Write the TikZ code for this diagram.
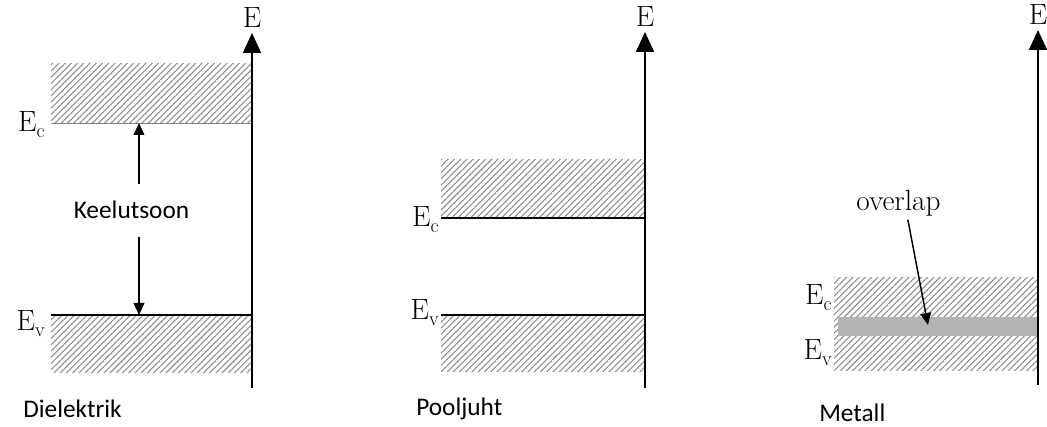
\documentclass[tikz,border=0pt]{standalone}
\usepackage{fontspec}
\newfontfamily\labelsans{Carlito}
\usetikzlibrary{arrows.meta,positioning,patterns.meta}
\definecolor{Hatch}{HTML}{8C8C8C}
\definecolor{Overlap}{HTML}{B3B3B3}
\newcommand{\lvl}[1]{E\raisebox{-0.45ex}{\fontsize{15}{16}\selectfont #1}}
\tikzset{
  band/.style={pattern={Lines[angle=45,distance=3.3pt,line width=0.8pt]},pattern color=Hatch},
  axis/.style={line width=1.5pt,-{Triangle[width=13.5pt,length=15pt]}},
  level/.style={line width=1.2pt},
  gaparrow/.style={line width=1.1pt,-{Triangle[width=8pt,length=9pt]}},
  serif/.style={font=\fontsize{22}{24}\selectfont,inner sep=0pt},
  caption/.style={font=\labelsans\fontsize{19}{22}\selectfont,inner sep=0pt},
}

\begin{document}
\begin{tikzpicture}[x=0.75pt,y=-0.75pt]
  \useasboundingbox (0,0) rectangle (1047,427);

  % Dielektrik
  \fill[band] (51,64) rectangle (251,123);
  \fill[band] (51,315) rectangle (251,373);
  \coordinate (ec1) at (51,123);
  \coordinate (ec1r) at (252,123);
  \coordinate (ev1) at (51,315);
  \coordinate (ev1r) at (252,315);
  \draw[gray,line width=0.6pt] (ec1) -- (ec1r);
  \draw[level] (ev1) -- (ev1r);
  \node[serif,anchor=base east] (Ec1) at (45,132) {\lvl{c}};
  \node[serif,anchor=base east] (Ev1) at (45,331) {\lvl{v}};
  \coordinate (gapT) at (139,123);
  \coordinate (gapB) at (139,315);
  \node[caption,anchor=base,inner ysep=13pt] (gap) at (131.5,219) {Keelutsoon};
  \draw[gaparrow] (gap.north -| gapT) -- (gapT);
  \draw[gaparrow] (gap.south -| gapB) -- (gapB);
  \node[caption,anchor=base west] (cap1) at (23,418) {Dielektrik};

  % Pooljuht
  \fill[band] (441,160) rectangle (644,218);
  \fill[band] (441,315) rectangle (644,372);
  \coordinate (ec2) at (441,218);
  \coordinate (ec2r) at (645,218);
  \coordinate (ev2) at (441,315);
  \coordinate (ev2r) at (645,315);
  \draw[level] (ec2) -- (ec2r);
  \draw[level] (ev2) -- (ev2r);
  \node[serif,anchor=base east] (Ec2) at (439,227) {\lvl{c}};
  \node[serif,anchor=base east] (Ev2) at (439,320) {\lvl{v}};
  \node[caption,anchor=base west] (cap2) at (416,416) {Pooljuht};

  % Metall
  \fill[band] (834,278) rectangle (1037,371);
  \fill[Overlap] (838,317) rectangle (1037,336);
  \node[serif,anchor=base east] (Ec3) at (832,305) {\lvl{c}};
  \node[serif,anchor=base east] (Ev3) at (832,360) {\lvl{v}};
  \node[font=\fontsize{22}{24}\selectfont,inner sep=2pt,anchor=base] (ovl) at (898.5,211) {overlap};
  \coordinate (ovT) at (928,325);
  \draw[gaparrow] ([xshift=7pt]ovl.south) -- (ovT);
  \node[caption,anchor=base west] (cap3) at (819,422) {Metall};

  % energy axes
  \foreach \xa/\ya/\yb [count=\k] in {252/33/388,645/32/388,1038/30/385}{
    \coordinate (bot\k) at (\xa,\yb);
    \coordinate (top\k) at (\xa,\ya);
    \draw[axis] (bot\k) -- (top\k);
    \node[serif,above=4pt of top\k] (E\k) {E};
  }
\end{tikzpicture}
\end{document}
